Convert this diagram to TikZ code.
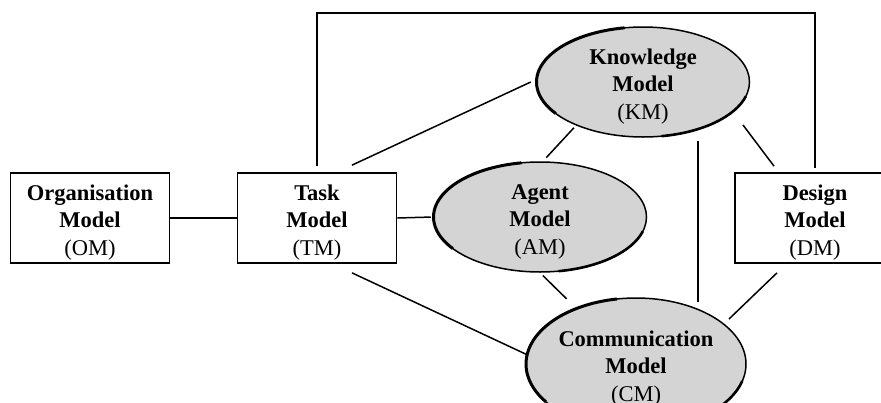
\documentclass[tikz,border=0pt]{standalone}
\usepackage{fontspec}
\setmainfont{Liberation Serif}
\usetikzlibrary{shapes.geometric}

\tikzset{
  modeltext/.style={align=center, inner sep=0pt, font=\fontsize{22.5}{27.5}\selectfont},
  modelbox/.style={modeltext, draw, line width=1.7pt, rectangle, text height=79pt,
    minimum width=159pt, minimum height=90pt},
  modelblob/.style={modeltext, draw, line width=1.5pt, ellipse, fill=black!17,
    text height=74pt, text depth=0pt, minimum width=213pt, minimum height=110pt},
  link/.style={line width=1.5pt}
}

\newcommand{\modelname}[2]{\textbf{#1}\\\textbf{Model}\\(#2)}

\begin{document}
\begin{tikzpicture}[x=1pt,y=-1pt]
      \clip (0,0) rectangle (881,402);

      % Models
      \node[modelbox] (om) at (90,218) {\modelname{Organisation}{OM}};
      \node[modelbox] (tm) at (317,218) {\modelname{Task}{TM}};
      \node[modelbox, minimum width=160pt] (dm) at (815,218) {\modelname{Design}{DM}};
      \node[modelblob] (am) at (540,217) {\modelname{Agent}{AM}};
      \node[modelblob] (km) at (643,82) {\modelname{Knowledge}{KM}};
      \node[modelblob, minimum width=220pt, minimum height=132pt] (cm) at (636,364) {\modelname{Communication}{CM}};

      % heavier pen strokes on the ellipses
      \foreach \blob/\rx/\ry in {am/106.5/55, km/106.5/55, cm/110/66}{
          \draw[line width=3pt] ([shift={(100:\rx pt and \ry pt)}]\blob.center)
            arc[start angle=100, end angle=215, x radius=\rx pt, y radius=\ry pt];
          \draw[line width=2.6pt] ([shift={(-80:\rx pt and \ry pt)}]\blob.center)
            arc[start angle=-80, end angle=-15, x radius=\rx pt, y radius=\ry pt];
        }

      % Links
      \coordinate (top) at (0,13);
      \draw[link] (om.east) -- (tm.west);
      \draw[link, shorten >=2pt] (tm.east) -- (am.west);
      \draw[link] ([xshift=35pt,yshift=7pt]tm.north) -- ([xshift=-5pt]km.west);
      \draw[link] ([xshift=35pt,yshift=-9pt]tm.south) -- (cm.175);
      \draw[link, shorten <=3pt, shorten >=5pt] (km.213) -- (am.87);
      \draw[link] ([xshift=100pt,yshift=-43pt]km.center) -- ([xshift=-41pt,yshift=6pt]dm.north);
      \draw[link] ([xshift=55pt,yshift=-3pt]km.south) -- ([xshift=62pt,yshift=-5pt]cm.north);
      \draw[link, shorten <=4pt, shorten >=13pt] (am.south) -- (cm.137);
      \draw[link] ([xshift=-38pt,yshift=-9pt]dm.south) -- ([xshift=93pt,yshift=45pt]cm.center);

      % Frame over the top
      \draw[link, shorten <=6pt, shorten >=4pt] (tm.north) -- (tm.north |- top) -| (dm.north);

    \end{tikzpicture}
\end{document}
